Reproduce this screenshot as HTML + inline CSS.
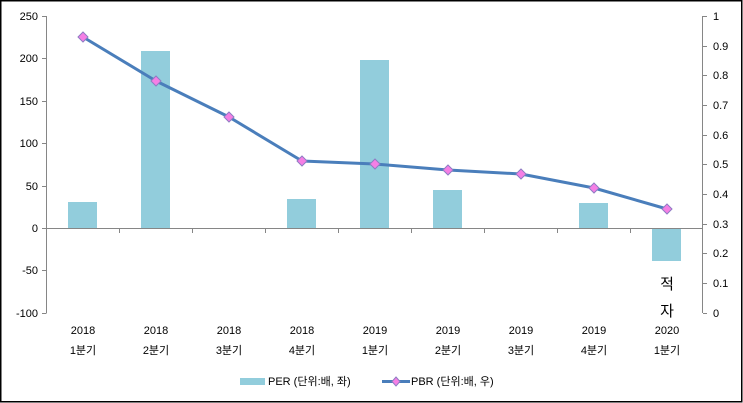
<!DOCTYPE html>
<html><head><meta charset="utf-8"><style>
html,body{margin:0;padding:0;background:#fff;}
svg{display:block;}
text{font-family:"Liberation Sans","Noto Sans CJK KR",sans-serif;font-size:11px;fill:#000;}
</style></head><body>
<svg width="743" height="403" viewBox="0 0 743 403" xmlns="http://www.w3.org/2000/svg">
<rect x="0.75" y="0.75" width="741" height="401" fill="#fff" stroke="#000" stroke-width="1.5"/>
<g fill="#92CDDC">
<rect x="68" y="202" width="29" height="26"/>
<rect x="141" y="51" width="29" height="177"/>
<rect x="287" y="199" width="29" height="29"/>
<rect x="360" y="60" width="29" height="168"/>
<rect x="433" y="190" width="29" height="38"/>
<rect x="579" y="203" width="29" height="25"/>
<rect x="652" y="228" width="29" height="33"/>
</g>
<g stroke="#868686" stroke-width="1" fill="none">
<line x1="46.5" y1="16" x2="46.5" y2="313"/>
<line x1="702.5" y1="16" x2="702.5" y2="313"/>
<line x1="46" y1="228.5" x2="703" y2="228.5"/>
<path d="M42 16.5H46.5M42 58.5H46.5M42 101.5H46.5M42 143.5H46.5M42 186.5H46.5M42 228.5H46.5M42 270.5H46.5M42 313.5H46.5"/>
<path d="M703 16.5H707M703 46.5H707M703 75.5H707M703 105.5H707M703 135.5H707M703 164.5H707M703 194.5H707M703 224.5H707M703 253.5H707M703 283.5H707M703 313.5H707"/>
<path d="M119.5 228V233M192.5 228V233M265.5 228V233M338.5 228V233M411.5 228V233M484.5 228V233M557.5 228V233M630.5 228V233"/>
</g>
<g text-anchor="end">
<text x="38" y="20">250</text><text x="38" y="62">200</text><text x="38" y="105">150</text><text x="38" y="147">100</text><text x="38" y="190">50</text><text x="38" y="232">0</text><text x="38" y="274">-50</text><text x="38" y="317">-100</text>
</g>
<g>
<text x="713" y="20">1</text><text x="713" y="50">0.9</text><text x="713" y="79">0.8</text><text x="713" y="109">0.7</text><text x="713" y="139">0.6</text><text x="713" y="168">0.5</text><text x="713" y="198">0.4</text><text x="713" y="228">0.3</text><text x="713" y="257">0.2</text><text x="713" y="287">0.1</text><text x="713" y="317">0</text>
</g>
<g text-anchor="middle">
<text x="83" y="334">2018</text><text x="83" y="354">1분기</text>
<text x="156" y="334">2018</text><text x="156" y="354">2분기</text>
<text x="229" y="334">2018</text><text x="229" y="354">3분기</text>
<text x="302" y="334">2018</text><text x="302" y="354">4분기</text>
<text x="375" y="334">2019</text><text x="375" y="354">1분기</text>
<text x="448" y="334">2019</text><text x="448" y="354">2분기</text>
<text x="521" y="334">2019</text><text x="521" y="354">3분기</text>
<text x="594" y="334">2019</text><text x="594" y="354">4분기</text>
<text x="667" y="334">2020</text><text x="667" y="354">1분기</text>
<text x="667" y="289" style="font-size:15px">적</text>
<text x="667" y="316" style="font-size:15px">자</text>
</g>
<polyline points="83,37 156,81 229,117 302,161 375,164 448,170 521,174 594,188 667,209" fill="none" stroke="#4A7EBB" stroke-width="3" stroke-linejoin="round"/>
<g fill="#F57FE5" stroke="#8E7CC3" stroke-width="1">
<path d="M83 32l5 5l-5 5l-5-5z"/><path d="M156 76l5 5l-5 5l-5-5z"/><path d="M229 112l5 5l-5 5l-5-5z"/><path d="M302 156l5 5l-5 5l-5-5z"/><path d="M375 159l5 5l-5 5l-5-5z"/><path d="M448 165l5 5l-5 5l-5-5z"/><path d="M521 169l5 5l-5 5l-5-5z"/><path d="M594 183l5 5l-5 5l-5-5z"/><path d="M667 204l5 5l-5 5l-5-5z"/>
</g>
<rect x="240" y="378" width="25" height="7" fill="#92CDDC"/>
<text x="268" y="385">PER (단위:배, 좌)</text>
<line x1="382" y1="381.5" x2="410" y2="381.5" stroke="#4A7EBB" stroke-width="3"/>
<path d="M396 377l4 4.5l-4 4.5l-4-4.5z" fill="#F57FE5" stroke="#8E7CC3"/>
<text x="411" y="385">PBR (단위:배, 우)</text>
</svg>
</body></html>
